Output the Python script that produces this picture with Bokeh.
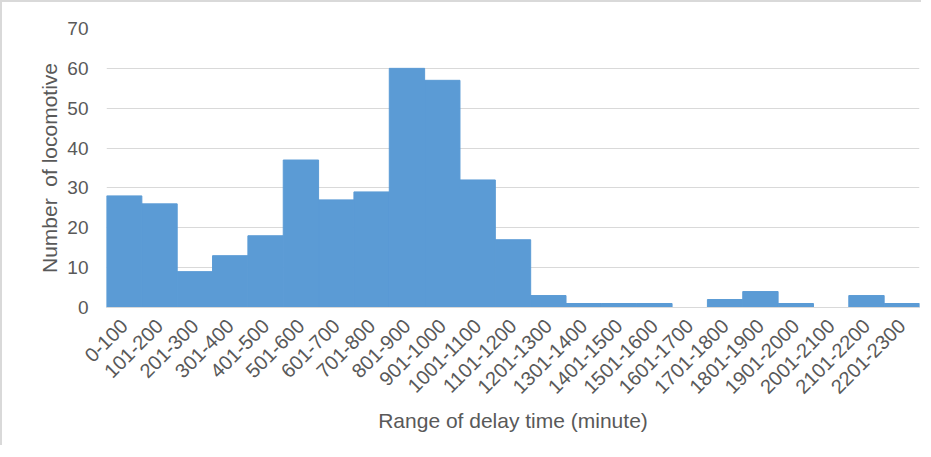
import math
from bokeh.plotting import figure
from bokeh.models import Range1d, ColumnDataSource
from bokeh.embed import file_html
from bokeh.resources import INLINE

categories = ["0-100", "101-200", "201-300", "301-400", "401-500", "501-600",
              "601-700", "701-800", "801-900", "901-1000", "1001-1100", "1101-1200",
              "1201-1300", "1301-1400", "1401-1500", "1501-1600", "1601-1700",
              "1701-1800", "1801-1900", "1901-2000", "2001-2100", "2101-2200", "2201-2300"]
counts = [28, 26, 9, 13, 18, 37, 27, 29, 60, 57, 32, 17, 3, 1, 1, 1, 0, 2, 4, 1, 0, 3, 1]

FONT = "Liberation Sans"
TXT = "#595959"
GRID = "#d9d9d9"

src = ColumnDataSource(dict(cat=categories, n=counts))

p = figure(x_range=categories, y_range=Range1d(0, 70), width=921, height=445,
           output_backend="svg", toolbar_location=None,
           min_border_left=104, min_border_right=4, min_border_top=26, min_border_bottom=140)
p.x_range.range_padding = 0
p.vbar(x="cat", top="n", width=1.0, source=src, fill_color="#5B9BD5", line_color="#5B9BD5")

p.outline_line_color = None
p.background_fill_color = "white"
p.border_fill_color = "white"
p.xgrid.grid_line_color = None
p.ygrid.grid_line_color = GRID
p.ygrid.grid_line_width = 1
p.yaxis.ticker = list(range(0, 71, 10))

p.yaxis.axis_line_color = None
p.yaxis.major_tick_line_color = None
p.yaxis.minor_tick_line_color = None
p.yaxis.major_label_text_font = FONT
p.yaxis.major_label_text_font_size = "19px"
p.yaxis.major_label_text_color = TXT
p.yaxis.major_label_standoff = 12
p.yaxis.axis_label = "Number \u00a0of locomotive"
p.yaxis.axis_label_text_font = FONT
p.yaxis.axis_label_text_font_size = "21px"
p.yaxis.axis_label_text_font_style = "normal"
p.yaxis.axis_label_text_color = TXT
p.yaxis.axis_label_standoff = 3

p.xaxis.axis_line_color = GRID
p.xaxis.major_tick_line_color = None
p.xaxis.minor_tick_line_color = None
p.xaxis.major_label_orientation = math.pi / 4
p.xaxis.major_label_text_font = FONT
p.xaxis.major_label_text_font_size = "20px"
p.xaxis.major_label_text_color = TXT
p.xaxis.major_label_standoff = 9
p.xaxis.axis_label = "Range of delay time (minute)"
p.xaxis.axis_label_text_font = FONT
p.xaxis.axis_label_text_font_size = "21px"
p.xaxis.axis_label_text_font_style = "normal"
p.xaxis.axis_label_text_color = TXT
p.xaxis.axis_label_standoff = 6

p.styles = {"border-left": "2px solid #d9d9d9", "border-top": "2px solid #d9d9d9"}

open("out.html", "w").write(file_html(p, INLINE))
